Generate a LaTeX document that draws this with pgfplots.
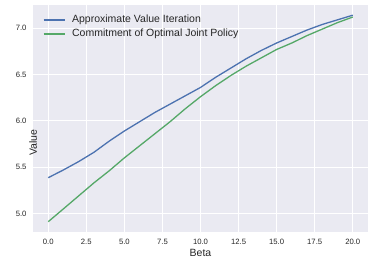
\documentclass[border=0pt]{standalone}
\usepackage{fontspec}
\setmainfont{Liberation Sans}
\usepackage{pgfplots}
\pgfplotsset{compat=1.18}
\definecolor{sbbg}{HTML}{EAEAF2}
\definecolor{sbblue}{HTML}{4C72B0}
\definecolor{sbgreen}{HTML}{55A868}
\definecolor{sbtext}{HTML}{262626}
\begin{document}
\begin{tikzpicture}
\path[use as bounding box] (-33pt,-32pt) rectangle (340pt,232pt);
\begin{axis}[
  at={(0pt,0pt)}, anchor=south west,
  scale only axis, width=335pt, height=227pt,
  xmin=-1, xmax=21, ymin=4.80, ymax=7.25,
  axis background/.style={fill=sbbg},
  axis line style={draw=none},
  major tick length=0pt,
  grid=major, grid style={white, line width=0.9pt},
  xtick={0,2.5,5,7.5,10,12.5,15,17.5,20},
  ytick={5,5.5,6,6.5,7},
  /pgf/number format/assume math mode=true,
  /pgf/number format/.cd, fixed, fixed zerofill, precision=1, /pgfplots/.cd,
  ticklabel style={font=\fontsize{7.7}{8}\selectfont, text=sbtext, inner sep=0pt},
  xticklabel style={anchor=north, yshift=-6.7pt},
  yticklabel style={anchor=east, xshift=-6.3pt},
  xlabel={Beta}, ylabel={Value},
  label style={font=\fontsize{10.5}{12}\selectfont, text=sbtext},
  xlabel style={at={(axis description cs:0.5,0)}, anchor=center, yshift=-21pt},
  ylabel style={at={(axis description cs:0,0.5)}, anchor=center, xshift=-24pt},
  legend style={draw=none, fill=none, at={(axis description cs:0,1)}, anchor=north west,
    xshift=10pt, yshift=-8pt, inner sep=0pt, outer sep=0pt,
    font=\fontsize{10.5}{12}\selectfont, text=sbtext,
    nodes={text height=7.5pt, text depth=2.5pt, inner sep=2pt}, row sep=0pt,
    /tikz/every odd column/.append style={column sep=5pt}},
  legend cell align=left,
  legend image code/.code={\draw[#1, line width=1.1pt] (0pt,0pt) -- (21pt,0pt);},
]
\addplot[sbblue, line width=1.3pt] coordinates {
(0,5.386) (1,5.47) (2,5.56) (3,5.66) (4,5.78) (5,5.89) (6,5.99) (7,6.09)
(8,6.18) (9,6.27) (10,6.36) (11,6.47) (12,6.57) (13,6.67) (14,6.76)
(15,6.84) (16,6.91) (17,6.98) (18,7.04) (19,7.09) (20,7.14)};
\addlegendentry{Approximate Value Iteration}
\addplot[sbgreen, line width=1.3pt] coordinates {
(0,4.911) (1,5.05) (2,5.19) (3,5.33) (4,5.46) (5,5.60) (6,5.73) (7,5.86)
(8,5.99) (9,6.13) (10,6.26) (11,6.38) (12,6.49) (13,6.59) (14,6.68)
(15,6.77) (16,6.84) (17,6.92) (18,6.99) (19,7.06) (20,7.12)};
\addlegendentry{Commitment of Optimal Joint Policy}
\end{axis}
\end{tikzpicture}
\end{document}
